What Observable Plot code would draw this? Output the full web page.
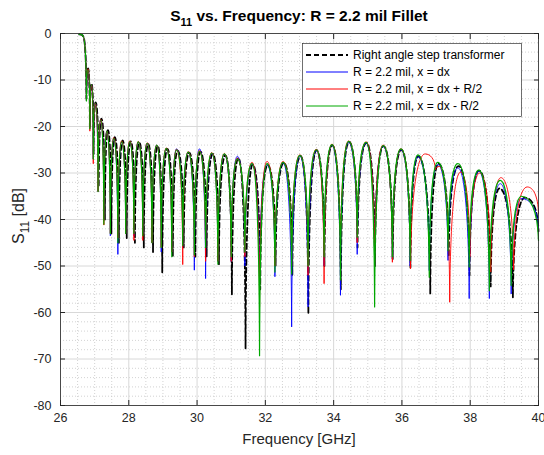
<!DOCTYPE html>
<html><head><meta charset="utf-8">
<script src="https://cdn.jsdelivr.net/npm/d3@7"></script>
<script src="https://cdn.jsdelivr.net/npm/@observablehq/plot@0.6"></script>
<style>
html,body{margin:0;padding:0;background:#fff;}
#chart{width:544px;height:455px;}
</style></head><body><div id="chart"></div>
<script>
// ---------- data (frequency in GHz, S11 in dB; alternating peaks and dips) ----------
const xTicks = [26, 28, 30, 32, 34, 36, 38, 40];
const xTickLabels = ["26", "28", "30", "32", "34", "36", "38", "40"];
const yTicks = [0, -10, -20, -30, -40, -50, -60, -70, -80];
const yTickLabels = ["0", "-10", "-20", "-30", "-40", "-50", "-60", "-70", "-80"];
const seriesNames = ["Right angle step transformer", "R = 2.2 mil, x = dx", "R = 2.2 mil, x = dx + R/2", "R = 2.2 mil, x = dx - R/2"];
const seriesColors = ["#000000", "#0000ff", "#ff0000", "#00a800"];

const freqStep = [26.55,26.66,26.76,26.81,26.86,26.91,26.97,27.03,27.12,27.20,
  27.30,27.39,27.49,27.59,27.71,27.82,27.94,28.06,28.18,28.31,
  28.44,28.57,28.71,28.85,28.98,29.13,29.29,29.43,29.61,29.77,
  29.95,30.10,30.28,30.46,30.64,30.83,31.02,31.21,31.42,31.63,
  31.85,32.07,32.30,32.54,32.79,33.03,33.26,33.50,33.73,33.96,
  34.21,34.45,34.70,34.96,35.21,35.46,35.73,35.98,36.25,36.48,
  36.83,37.07,37.37,37.66,37.98,38.26,38.60,38.86,39.25,39.60,40.00];

const dbStep = [-0.2,-0.6,-14,-7.5,-20,-10.8,-26,-14.8,-33,-18.3,
  -40,-20.8,-43,-22.3,-45,-23,-44,-23.2,-45,-23.5,
  -46,-23.8,-47,-24.2,-51.4,-24.8,-48,-25.2,-46,-25.6,
  -48,-25.4,-48,-25.9,-49.6,-26.2,-56.1,-26.8,-67.7,-28.2,
  -55,-28.3,-50,-27.8,-52,-26.3,-60.3,-25.1,-50,-24,
  -55,-23.3,-46,-23.5,-50,-24.2,-48.5,-25,-50.3,-26.4,
  -55.9,-28,-48,-28.5,-52,-29.5,-54.4,-33.3,-56.8,-35.3,-42.5];

const freqPts = [26.55,26.66,26.76,26.81,26.86,26.91,26.96,27.02,27.10,27.18,
  27.27,27.36,27.46,27.56,27.68,27.79,27.91,28.03,28.15,28.28,
  28.41,28.54,28.68,28.82,28.95,29.10,29.26,29.40,29.58,29.74,
  29.92,30.07,30.25,30.43,30.61,30.80,31.00,31.18,31.40,31.61,
  31.83,32.05,32.28,32.52,32.77,33.01,33.25,33.49,33.72,33.95,
  34.20,34.44,34.69,34.95,35.20,35.45,35.72,35.97,36.24,36.47,
  36.80,37.05,37.35,37.64,37.97,38.25,38.56,38.88,39.20,39.50,40.00];

const dbFillet = [-0.2,-0.6,-14.5,-7.8,-20.5,-11,-27,-15,-34,-18.6,
  -40,-21,-43.5,-22.6,-47.5,-23.3,-43,-23.3,-43.5,-23.3,
  -43,-23.6,-45,-24,-47,-24.7,-47,-24.8,-46,-25.5,
  -50.9,-24.8,-52.7,-25.8,-49,-26,-49,-26.4,-50,-28,
  -55,-28.2,-52.3,-27.8,-63.1,-26.3,-58.8,-25.2,-50,-24,
  -56.3,-23.4,-47.5,-23.6,-50,-24.3,-48.5,-25,-50,-26.5,
  -51,-28.2,-48.8,-28.9,-57,-29.6,-57,-32.3,-56,-35.5,-42];

const dbMinus = [-0.2,-0.6,-14.5,-7.8,-20.5,-11,-27,-15,-34,-18.6,
  -41,-21,-43,-22.6,-45,-23.3,-43,-23.3,-43,-23.3,
  -43.5,-23.6,-45,-24,-46,-24.7,-48,-25,-45.6,-25.5,
  -47.6,-25.4,-46,-25.7,-49.6,-25.9,-48,-27,-47,-28,
  -69.3,-28,-51.3,-27.7,-51.7,-26.2,-50,-25,-48,-23.9,
  -53,-23.2,-43.8,-23.4,-58.8,-24.1,-48,-24.8,-48.8,-26.1,
  -52.4,-27.7,-46.7,-28,-50.2,-29.4,-55.3,-31.6,-54.2,-35,-44.5];

const freqPlus = [26.55,26.66,26.76,26.81,26.86,26.91,26.96,27.02,27.10,27.18,
  27.27,27.36,27.46,27.56,27.68,27.79,27.91,28.03,28.15,28.28,
  28.41,28.54,28.68,28.82,28.95,29.10,29.26,29.40,29.58,29.74,
  29.92,30.07,30.25,30.43,30.61,30.80,31.00,31.18,31.40,31.61,
  31.83,32.05,32.28,32.52,32.77,33.01,33.25,33.49,33.72,33.95,
  34.20,34.44,34.69,34.95,35.20,35.45,35.72,35.97,36.25,36.68,
  36.98,37.10,37.40,37.72,37.99,38.28,38.60,38.90,39.27,39.67,40.00];

const dbPlus = [-0.2,-0.6,-14.5,-7.6,-21,-11,-28,-15,-34,-18.5,
  -41.2,-21,-43,-22.4,-44,-23.1,-43,-23.1,-44.5,-23.2,
  -44.5,-23.5,-45,-24,-46,-24.6,-47,-24.9,-49.7,-25.4,
  -48,-25.2,-49,-25.6,-49,-25.8,-49,-26.8,-48,-27.7,
  -58.8,-27.5,-50,-27.5,-50,-26.1,-52,-24.9,-53.8,-23.8,
  -50,-23.1,-45,-23.3,-50,-24,-49.2,-24.8,-50.6,-25.9,
  -29.3,-28.6,-57.8,-29.8,-48,-30,-51.3,-31,-50.8,-33,-38.7];

// ---------- build tables ----------
const toRows = (fs, ds) => fs.map((f, i) => ({f, db: ds[i]}));
const stepRows = toRows(freqStep, dbStep);
const filletRows = toRows(freqPts, dbFillet);
const plusRows = toRows(freqPlus, dbPlus);
const minusRows = toRows(freqPts, dbMinus);

// line shape: rounded at the peaks, sharp at the notches
class NotchCurve {
  constructor(ctx) { this._context = ctx; }
  areaStart() { this._line = 0; }
  areaEnd() { this._line = NaN; }
  lineStart() { this._point = 0; }
  lineEnd() {
    if (this._line || (this._line !== 0 && this._point === 1)) this._context.closePath();
    this._line = 1 - this._line;
  }
  point(x, y) {
    x = +x; y = +y;
    if (this._point === 0) {
      this._point = 1;
      this._line ? this._context.lineTo(x, y) : this._context.moveTo(x, y);
    } else {
      this._point = 2;
      const x0 = this._x0, y0 = this._y0, dx = x - x0, dy = y - y0;
      if (dy > 0) this._context.bezierCurveTo(x0 + dx * 0.5, y0, x - dx * 0.05, y0 + dy * 0.3, x, y);
      else this._context.bezierCurveTo(x0 + dx * 0.05, y0 + dy * 0.7, x - dx * 0.5, y, x, y);
    }
    this._x0 = x; this._y0 = y;
  }
}
const notch = (ctx) => new NotchCurve(ctx);

const minorX = d3.range(26.5, 40, 0.5).filter(v => !xTicks.includes(v));
const minorY = d3.range(-78, 0, 2).filter(v => !yTicks.includes(v));

const FONT = "'Liberation Sans', Arial, Helvetica, sans-serif";

const chart = Plot.plot({
  width: 544, height: 455,
  marginTop: 33, marginBottom: 50, marginLeft: 60, marginRight: 6,
  style: {fontFamily: FONT, fontSize: "12px", color: "#262626", background: "#fff", overflow: "visible"},
  x: {domain: [26, 40]},
  y: {domain: [-80, 0]},
  marks: [
    Plot.gridX(minorX, {stroke: "#c8c8c8", strokeOpacity: 1, strokeDasharray: "1,2", strokeWidth: 0.8}),
    Plot.gridY(minorY, {stroke: "#c8c8c8", strokeOpacity: 1, strokeDasharray: "1,2", strokeWidth: 0.8}),
    Plot.gridX(xTicks, {stroke: "#d8d8d8", strokeOpacity: 1}),
    Plot.gridY(yTicks, {stroke: "#d8d8d8", strokeOpacity: 1}),
    Plot.line(stepRows, {x: "f", y: "db", stroke: seriesColors[0], strokeWidth: 1.8, strokeDasharray: "5,3", curve: notch}),
    Plot.line(filletRows, {x: "f", y: "db", stroke: seriesColors[1], strokeWidth: 0.9, curve: notch}),
    Plot.line(plusRows, {x: "f", y: "db", stroke: seriesColors[2], strokeWidth: 0.9, curve: notch}),
    Plot.line(minusRows, {x: "f", y: "db", stroke: seriesColors[3], strokeWidth: 1.2, curve: notch}),
    Plot.frame({stroke: "#262626", strokeWidth: 0.8}),
    Plot.axisX(xTicks, {anchor: "bottom", tickSize: -5, tickPadding: 13, label: null, fontSize: 12.5,
      tickFormat: d => xTickLabels[xTicks.indexOf(d)]}),
    Plot.axisY(yTicks, {anchor: "left", tickSize: -5, tickPadding: 14, label: null, fontSize: 12.5,
      tickFormat: d => yTickLabels[yTicks.indexOf(d)]}),
    Plot.axisX(xTicks, {anchor: "top", tickSize: -5, label: null, tickFormat: () => ""}),
    Plot.axisY(yTicks, {anchor: "right", tickSize: -5, label: null, tickFormat: () => ""})
  ]
});
document.getElementById("chart").appendChild(chart);

const svg = d3.select(chart);
const cx = 299;
// title
const title = svg.append("text").attr("x", cx).attr("y", 21).attr("text-anchor", "middle")
  .attr("font-family", FONT).attr("font-weight", "bold").attr("font-size", 15.5).attr("fill", "#000");
title.append("tspan").text("S");
title.append("tspan").attr("dy", 5).attr("font-size", 11).text("11");
title.append("tspan").attr("dy", -5).text(" vs. Frequency: R = 2.2 mil Fillet");
// x label
svg.append("text").attr("x", cx).attr("y", 444).attr("text-anchor", "middle")
  .attr("font-family", FONT).attr("font-size", 15).attr("fill", "#262626").text("Frequency [GHz]");
// y label
const yl = svg.append("text").attr("transform", "translate(24,216) rotate(-90)").attr("text-anchor", "middle")
  .attr("font-family", FONT).attr("font-size", 16).attr("fill", "#262626");
yl.append("tspan").text("S");
yl.append("tspan").attr("dy", 5).attr("font-size", 12).text("11");
yl.append("tspan").attr("dy", -5).text(" [dB]");
// legend
const lg = svg.append("g");
lg.append("rect").attr("x", 302.5).attr("y", 43.5).attr("width", 219).attr("height", 73)
  .attr("fill", "#fff").attr("stroke", "#333").attr("stroke-width", 0.7);
seriesNames.forEach((name, i) => {
  const yy = 55 + i * 17;
  lg.append("line").attr("x1", 306).attr("x2", 348).attr("y1", yy).attr("y2", yy)
    .attr("stroke", seriesColors[i]).attr("stroke-width", i === 0 ? 1.8 : 1)
    .attr("stroke-dasharray", i === 0 ? "5,3" : null);
  lg.append("text").attr("x", 353).attr("y", yy).attr("dy", "0.35em").attr("text-anchor", "start")
    .attr("font-family", FONT).attr("font-size", 12).attr("fill", "#000").text(name);
});
</script>
</body></html>
